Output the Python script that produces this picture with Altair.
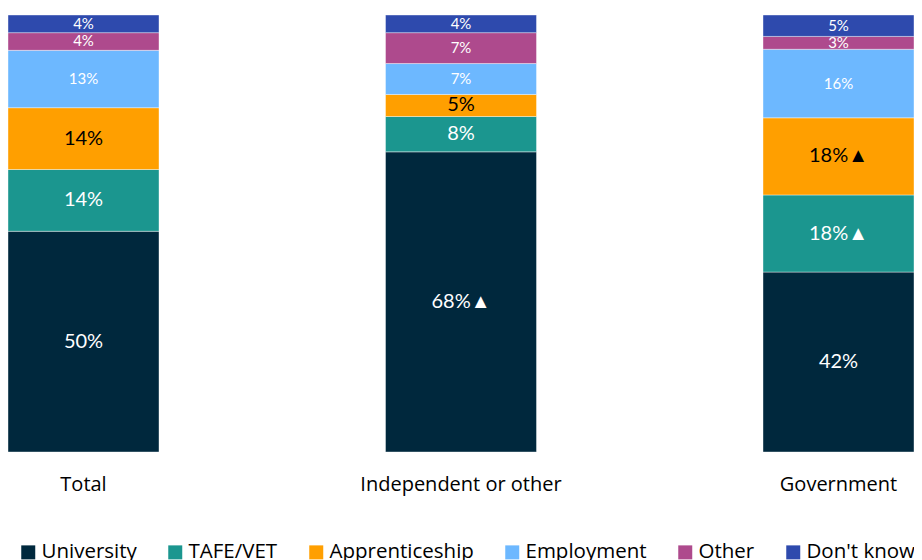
import altair as alt
import pandas as pd

groups = ["Total", "Independent or other", "Government"]
categories = ["University", "TAFE/VET", "Apprenticeship", "Employment", "Other", "Don't know"]
colors = ["#00283D", "#1B968F", "#FF9F00", "#6DB8FF", "#AE4A8D", "#2E4AAD"]

total = [50, 14, 14, 13, 4, 4]
independent = [68, 8, 5, 7, 7, 4]
government = [42, 18, 18, 16, 3, 5]
# significance markers
total_sig = ["", "", "", "", "", ""]
independent_sig = ["▲", "", "", "", "", ""]
government_sig = ["", "▲", "▲", "", "", ""]

rows = []
for g, vals, sigs in zip(groups, [total, independent, government], [total_sig, independent_sig, government_sig]):
    for i, (c, v, s) in enumerate(zip(categories, vals, sigs)):
        rows.append({"group": g, "cat": c, "order": i, "value": v,
                     "label": f"{v}%" + (s if s else "")})
df = pd.DataFrame(rows)

FONT = "Lato"
AXFONT = "Open Sans"

base = alt.Chart(df).transform_stack(
    stack="value", groupby=["group"], sort=[alt.SortField("order", order="ascending")],
    offset="normalize", as_=["y0", "y1"]
).transform_calculate(mid="(datum.y0 + datum.y1) / 2")

xenc = alt.X("group:N", sort=groups, title=None,
             scale=alt.Scale(paddingInner=0.6, paddingOuter=0.0),
             axis=alt.Axis(labelAngle=0, labelFontSize=20, labelFont=AXFONT, labelColor="#000000",
                           domain=False, ticks=False, labelPadding=22, labelLimit=0))

bars = base.mark_bar(stroke="white", strokeWidth=0.4).encode(
    x=xenc,
    y=alt.Y("y0:Q", scale=alt.Scale(domain=[0, 1]), axis=None),
    y2="y1:Q",
    color=alt.Color("cat:N", sort=categories,
                    scale=alt.Scale(domain=categories, range=colors),
                    legend=alt.Legend(title=None, orient="none", direction="horizontal",
                                      legendX=10, legendY=527, symbolType="square",
                                      symbolSize=196, symbolStrokeWidth=0,
                                      labelFontSize=20.5, labelFont=AXFONT, labelColor="#000000",
                                      columnPadding=28, labelOffset=3, columns=6, labelLimit=0)),
)

big = ["University", "TAFE/VET", "Apprenticeship"]
text = base.mark_text(font=FONT, baseline="middle", align="center").encode(
    x=alt.X("group:N", sort=groups),
    y=alt.Y("mid:Q", scale=alt.Scale(domain=[0, 1])),
    text="label:N",
    size=alt.condition(alt.FieldOneOfPredicate(field="cat", oneOf=big), alt.value(20), alt.value(15)),
    color=alt.condition(alt.FieldEqualPredicate(field="cat", equal="Apprenticeship"),
                        alt.value("#000000"), alt.value("#FFFFFF")),
)

chart = alt.layer(bars, text).properties(
    width=906, height=437,
    padding={"left": 0, "top": 7, "right": 0, "bottom": 108},
    autosize=alt.AutoSizeParams(type="none"),
).configure_view(stroke=None)

chart.save("out.html", embed_options={"renderer": "svg", "actions": False})
